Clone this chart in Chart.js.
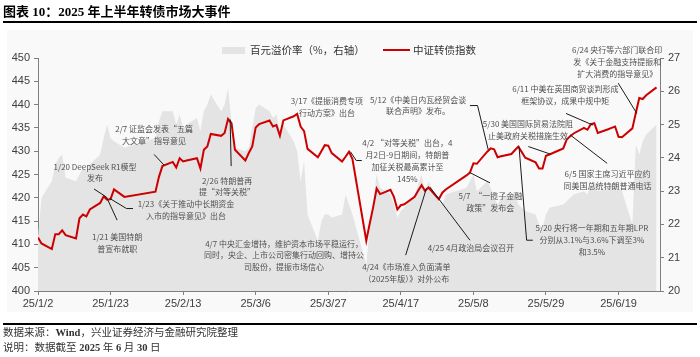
<!DOCTYPE html>
<html><head><meta charset="utf-8">
<script src="https://cdn.jsdelivr.net/npm/chart.js@4/dist/chart.umd.min.js"></script>
<style>
html,body{margin:0;padding:0;background:#fff;}
#wrap{position:relative;width:700px;height:357px;overflow:hidden;font-family:"Noto Sans CJK SC",sans-serif;}
#bg{position:absolute;left:7px;top:30px;width:686px;height:282px;background:#f9f9f9;}
#title{position:absolute;left:3px;top:3px;font:bold 13px "Liberation Serif","Noto Sans CJK SC";color:#000;white-space:nowrap;line-height:18px;}
.rule{position:absolute;left:3px;width:694px;height:2px;background:#000;}
.foot{position:absolute;left:3px;font:10.5px "Liberation Serif","Noto Sans CJK SC";color:#333;white-space:nowrap;line-height:14px;}
canvas{position:absolute;left:0;top:0;}
.lg{position:absolute;font:10.5px "Noto Sans CJK SC";color:#333;white-space:nowrap;line-height:14px;}
</style></head><body>
<div id="wrap">
<div id="bg"></div>
<canvas id="c" width="700" height="357"></canvas>
<div id="title">图表 10：2025 年上半年转债市场大事件</div>
<div class="rule" style="top:21px"></div>
<div class="rule" style="top:323px"></div>
<div class="foot" style="top:326px">数据来源：<b>Wind</b>，兴业证券经济与金融研究院整理</div>
<div class="foot" style="top:341px">说明：数据截至 <b>2025</b> 年 <b>6</b> 月 <b>30</b> 日</div>
<div style="position:absolute;left:222px;top:47px;width:23px;height:7px;background:#e4e4e4"></div>
<div class="lg" style="left:250px;top:43px">百元溢价率（%，右轴）</div>
<div style="position:absolute;left:383px;top:49px;width:27px;height:2px;background:#cc0000"></div>
<div class="lg" style="left:413px;top:43px">中证转债指数</div>
</div>
<script>
const dates = ['1/2','1/3','1/6','1/7','1/8','1/9','1/10','1/13','1/14','1/15','1/16','1/17','1/20','1/21','1/22','1/23','1/24','1/27',
'2/5','2/6','2/7','2/10','2/11','2/12','2/13','2/14','2/17','2/18','2/19','2/20','2/21','2/24','2/25','2/26','2/27','2/28',
'3/3','3/4','3/5','3/6','3/7','3/10','3/11','3/12','3/13','3/14','3/17','3/18','3/19','3/20','3/21','3/24','3/25','3/26','3/27','3/28','3/31',
'4/1','4/2','4/3','4/7','4/8','4/9','4/10','4/11','4/14','4/15','4/16','4/17','4/18','4/21','4/22','4/23','4/24','4/25','4/28','4/29','4/30',
'5/6','5/7','5/8','5/9','5/12','5/13','5/14','5/15','5/16','5/19','5/20','5/21','5/22','5/23','5/26','5/27','5/28','5/29','5/30',
'6/3','6/4','6/5','6/6','6/9','6/10','6/11','6/12','6/13','6/16','6/17','6/18','6/19','6/20','6/23','6/24','6/25','6/26','6/27','6/30'];
const cbIndex = [411.5,410.2,409.0,412.2,412.2,413.0,412.0,411.3,415.6,416.4,416.0,417.5,418.9,420.3,419.6,419.7,421.8,420.2,
421.3,424.5,426.8,427.7,426.5,428.5,427.8,428.0,428.5,426.3,430.3,431.0,433.7,433.3,433.9,436.9,436.0,430.3,
428.0,429.6,431.0,435.1,435.8,436.6,435.3,435.6,433.3,436.6,437.5,438.0,435.3,434.3,430.5,428.7,430.0,431.3,431.2,429.6,427.8,
428.8,429.9,428.3,410.8,414.5,418.0,422.0,420.8,421.7,420.2,417.5,418.4,418.6,420.2,421.5,422.7,421.5,422.2,419.7,421.1,421.8,
424.8,425.4,427.4,427.3,429.9,430.6,430.4,428.7,428.9,429.4,430.2,431.0,429.8,428.6,427.6,426.3,426.3,429.0,429.3,
430.6,432.5,433.2,433.8,435.0,434.6,435.8,436.0,433.9,434.7,435.0,435.3,433.1,433.0,434.9,438.2,441.4,441.2,442.0,443.7];
const premium = [21.6,22.8,23.3,23.8,24.0,24.1,23.4,23.3,23.5,23.7,23.6,23.8,24.1,24.6,25.0,24.6,24.5,24.3,
24.6,25.1,25.4,25.4,25.0,25.3,24.9,25.0,25.2,24.8,25.4,25.6,25.9,25.4,25.6,26.1,25.1,24.3,
24.2,24.3,24.9,25.5,25.6,25.4,25.2,25.3,24.8,25.0,24.5,24.2,23.3,23.9,22.3,21.5,22.1,22.3,22.3,22.2,22.3,
22.9,22.6,22.3,20.8,21.9,22.7,23.5,23.1,22.9,22.6,22.2,22.4,22.5,22.9,23.2,23.5,23.0,23.3,22.7,22.6,22.9,
23.1,23.3,23.5,23.0,23.3,23.1,22.8,22.6,22.8,22.9,23.0,22.6,22.5,22.4,22.3,22.0,21.9,22.3,22.5,
22.6,22.7,22.8,22.9,23.0,22.9,23.2,23.3,23.0,23.1,23.2,23.3,23.1,23.0,22.0,24.4,24.1,24.5,24.7,25.0];
const xTickLabels = ['25/1/2','25/1/23','25/2/13','25/3/6','25/3/27','25/4/17','25/5/8','25/5/29','25/6/19'];
const leftTicks = [400,405,410,415,420,425,430,435,440,445,450];
const rightTicks = [20,21,22,23,24,25,26,27];

// event notes: text lines, anchor [day offset from 1/2, left-axis value], leader polyline
const notes = [
 {lines:['1/20 DeepSeek R1模型','发布'], at:[16.5,426.7], leader:[[16.2,421.9],[19.7,420.2]]},
 {lines:['1/21 美国特朗','普宣布就职'], at:[22.9,411.6], leader:[[19.8,420.2],[22.9,415.2]]},
 {lines:['1/23《关于推动中长期资金','入市的指导意见》出台'], at:[42.8,418.7], leader:[[20.7,419.9],[25.6,417.7],[27.5,417.7]]},
 {lines:['2/7 证监会发表“五篇','大文章”指导意见'], at:[33.6,434.8], leader:[[33.6,429.3],[36.5,427.0]]},
 {lines:['2/26 特朗普再','提“对等关税”'], at:[54.7,423.7], leader:[[55.6,436.8],[55.9,426.8]]},
 {lines:['3/17《提振消费专项','行动方案》出台'], at:[83.6,440.8], leader:null},
 {lines:['4/2 “对等关税”出台，4','月2日-9日期间，特朗普','加征关税最高累计至','145%'], at:[106.9,431.7], leader:[[90.4,429.9],[92.1,428.0],[93.7,428.0]]},
 {lines:['5/12《中美日内瓦经贸会谈','联合声明》发布。'], at:[110.0,441.1], leader:[[125.0,439.8],[127.2,439.8],[130.3,430.3]]},
 {lines:['5/30 美国国际贸易法院阻','止美政府关税措施生效'], at:[141.8,435.8], leader:[[141.9,431.0],[148.2,429.4]]},
 {lines:['6/11 中美在英国商贸谈判形成','框架协议，成果中规中矩'], at:[152.6,443.3], leader:[[152.8,438.1],[160.6,435.6]]},
 {lines:['6/24 央行等六部门联合印','发《关于金融支持提振和','扩大消费的指导意见》'], at:[167.6,451.7], leader:[[167.9,444.6],[173.3,438.1]]},
 {lines:['6/5 国家主席习近平应约','同美国总统特朗普通电话'], at:[164.8,425.1], leader:[[154.0,433.5],[164.7,427.4]]},
 {lines:['5/20 央行将一年期和五年期LPR','分别从3.1%与3.6%下调至3%','和3.5%'], at:[160.3,413.5], leader:[[139.2,431.0],[141.4,410.9],[143.2,410.9]]},
 {lines:['5/7  “一揽子金融','政策”发布会'], at:[130.9,420.4], leader:[[125.0,425.4],[130.8,423.2]]},
 {lines:['4/25 4月政治局会议召开'], at:[125.3,409.2], leader:[[113.4,422.3],[125.0,410.9]]},
 {lines:['4/24《市场准入负面清单','（2025年版）》对外公布'], at:[106.6,405.2], leader:[[106.4,407.7],[112.4,422.0]]},
 {lines:['4/7 中央汇金增持，维护资本市场平稳运行，','同时，央企、上市公司密集行动回购、增持公','司股份，提振市场信心'], at:[71.2,410.2], leader:null}
];

const base = Date.UTC(2025,0,2);
function dayOf(s){const p=s.split('/');return Math.round((Date.UTC(2025,+p[0]-1,+p[1])-base)/86400000);}
const tickDays = xTickLabels.map(s=>{const p=s.split('/');return dayOf(p[1]+'/'+p[2]);});
const idxPts = dates.map((d,i)=>({x:dayOf(d),y:cbIndex[i]}));
const premPts = dates.map((d,i)=>({x:dayOf(d),y:premium[i]}));

const notesPlugin = {
 id:'notes',
 afterDatasetsDraw(chart){
  const ctx=chart.ctx, xs=chart.scales.x, ys=chart.scales.y;
  ctx.save();
  ctx.strokeStyle='#1a1a1a'; ctx.lineWidth=1;
  notes.forEach(n=>{
   if(!n.leader) return;
   ctx.beginPath();
   n.leader.forEach((p,i)=>{const px=xs.getPixelForValue(p[0]), py=ys.getPixelForValue(p[1]); if(i===0) ctx.moveTo(px,py); else ctx.lineTo(px,py);});
   ctx.stroke();
  });
  ctx.font='8px "Noto Sans CJK SC"'; ctx.fillStyle='#505050'; ctx.textAlign='center'; ctx.textBaseline='middle';
  notes.forEach(n=>{
   const cx=xs.getPixelForValue(n.at[0]), cy=ys.getPixelForValue(n.at[1]);
   n.lines.forEach((t,i)=>ctx.fillText(t,cx,cy+i*11.8));
  });
  ctx.restore();
 }
};

const axisFont={family:'"Liberation Sans", Arial, sans-serif', size:11};
new Chart(document.getElementById('c'),{
 type:'line',
 data:{datasets:[
  {label:'中证转债指数', data:idxPts, yAxisID:'y', borderColor:'#cc0000', borderWidth:2, pointRadius:0, tension:0, fill:false},
  {label:'百元溢价率（%，右轴）', data:premPts, yAxisID:'y2', borderWidth:0, borderColor:'rgba(0,0,0,0)', backgroundColor:'#e4e4e4', pointRadius:0, tension:0, fill:'start'}
 ]},
 options:{
  responsive:false, animation:false, devicePixelRatio:1,
  layout:{padding:{top:58,left:0,right:0,bottom:0}},
  plugins:{legend:{display:false}, tooltip:{enabled:false}},
  scales:{
   x:{type:'linear', position:'bottom', min:0, max:180,
      afterFit(s){s.height=66;},
      afterBuildTicks(s){s.ticks=tickDays.map(v=>({value:v}));},
      ticks:{font:axisFont, color:'#404040', padding:2, maxRotation:0, autoSkip:false,
        callback(v){const i=tickDays.indexOf(v);return i>=0?xTickLabels[i]:'';}},
      grid:{drawOnChartArea:false, drawTicks:true, tickLength:4, color:'#7f7f7f'},
      border:{display:true, color:'#7f7f7f', width:1}},
   y:{type:'linear', position:'left', min:400, max:450,
      afterFit(s){s.width=38;},
      afterBuildTicks(s){s.ticks=leftTicks.map(v=>({value:v}));},
      ticks:{font:axisFont, color:'#404040', padding:4},
      grid:{drawOnChartArea:false, drawTicks:true, tickLength:4, color:'#7f7f7f'},
      border:{display:true, color:'#7f7f7f', width:1}},
   y2:{type:'linear', position:'right', min:20, max:27,
      afterFit(s){s.width=40;},
      afterBuildTicks(s){s.ticks=rightTicks.map(v=>({value:v}));},
      ticks:{font:axisFont, color:'#404040', padding:4},
      grid:{drawOnChartArea:false, drawTicks:true, tickLength:4, color:'#7f7f7f'},
      border:{display:true, color:'#7f7f7f', width:1}}
  }
 },
 plugins:[notesPlugin]
});
</script>
</body></html>
